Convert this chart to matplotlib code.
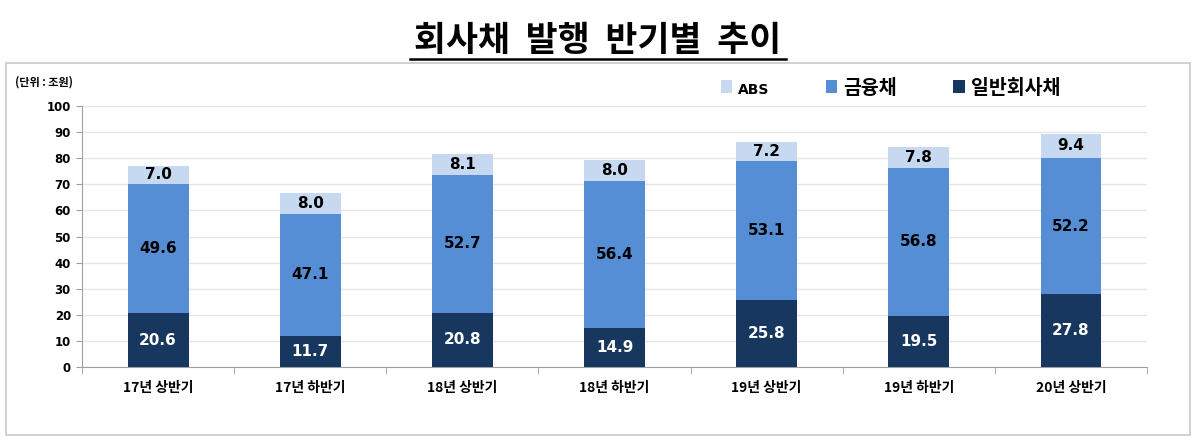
import numpy as np
import matplotlib.pyplot as plt
from matplotlib.patches import Rectangle
from matplotlib.lines import Line2D

plt.rcParams['font.family'] = ['Noto Sans CJK KR', 'DejaVu Sans']

categories = ['17년 상반기', '17년 하반기', '18년 상반기', '18년 하반기',
              '19년 상반기', '19년 하반기', '20년 상반기']
general = [20.6, 11.7, 20.8, 14.9, 25.8, 19.5, 27.8]
finance = [49.6, 47.1, 52.7, 56.4, 53.1, 56.8, 52.2]
abs_vals = [7.0, 8.0, 8.1, 8.0, 7.2, 7.8, 9.4]

c_dark = '#17375E'
c_mid = '#558ED5'
c_light = '#C6D9F1'

W, H = 1196, 442
fig = plt.figure(figsize=(W / 100, H / 100), dpi=100)

# outer frame
fig.patches.append(Rectangle((6 / W, 1 - 435 / H), 1184 / W, 372 / H,
                             transform=fig.transFigure, fill=False,
                             edgecolor='#C8C8C8', linewidth=1.2))

fig.text(0.5, 1 - 40 / H, '회사채  발행  반기별  추이', ha='center', va='center',
         fontsize=25, fontweight='bold', color='black')
fig.lines.append(Line2D([410 / W, 786 / W], [1 - 59 / H, 1 - 59 / H],
                        transform=fig.transFigure, color='black', linewidth=1.8))

fig.text(15 / W, 1 - 82 / H, '(단위 : 조원)', ha='left', va='center',
         fontsize=8, fontweight='bold')

ax = fig.add_axes([82 / W, 1 - 367 / H, (1147 - 82) / W, (367 - 106) / H])

x = np.arange(len(categories))
w = 0.4
b1 = ax.bar(x, general, w, color=c_dark, label='일반회사채', zorder=3)
b2 = ax.bar(x, finance, w, bottom=general, color=c_mid, label='금융채', zorder=3)
bottom3 = np.array(general) + np.array(finance)
b3 = ax.bar(x, abs_vals, w, bottom=bottom3, color=c_light, label='ABS', zorder=3)

lab = dict(ha='center', va='center', fontsize=11, fontweight='bold',
           family='DejaVu Sans', zorder=4)
for i in range(len(x)):
    ax.text(x[i], general[i] / 2, f'{general[i]:.1f}', color='white', **lab)
    ax.text(x[i], general[i] + finance[i] / 2, f'{finance[i]:.1f}', color='black', **lab)
    ax.text(x[i], bottom3[i] + abs_vals[i] / 2, f'{abs_vals[i]:.1f}', color='black', **lab)

ax.set_xlim(-0.5, len(x) - 0.5)
ax.set_ylim(0, 100)
ax.set_yticks(np.arange(0, 101, 10))
ax.yaxis.grid(True, color='#E6E6E6', linewidth=1, zorder=0)
ax.set_axisbelow(True)

ax.set_xticks(x)
ax.set_xticklabels(categories, fontsize=10, fontweight='bold')
ax.set_xticks(np.arange(-0.5, len(x), 1), minor=True)
ax.tick_params(axis='x', which='major', length=0, pad=10)
ax.tick_params(axis='x', which='minor', length=5, color='#A0A0A0')
ax.tick_params(axis='y', length=4, color='#A0A0A0', labelsize=8.5, pad=4)
for t in ax.get_yticklabels():
    t.set_fontweight('bold')
    t.set_family('DejaVu Sans')

for s in ['top', 'right']:
    ax.spines[s].set_visible(False)
for s in ['left', 'bottom']:
    ax.spines[s].set_color('#A0A0A0')

leg = fig.legend(handles=[b3, b2, b1], labels=['ABS', '금융채', '일반회사채'],
                 loc='center left', bbox_to_anchor=(703 / W, 1 - 88 / H), ncol=3,
                 frameon=False, handlelength=0.6, handleheight=0.6,
                 handletextpad=0.3, columnspacing=2.9, fontsize=14)
texts = leg.get_texts()
texts[0].set_fontsize(10)
texts[0].set_family('DejaVu Sans')
for t in texts:
    t.set_fontweight('bold')

fig.savefig('out.png', dpi=100)
